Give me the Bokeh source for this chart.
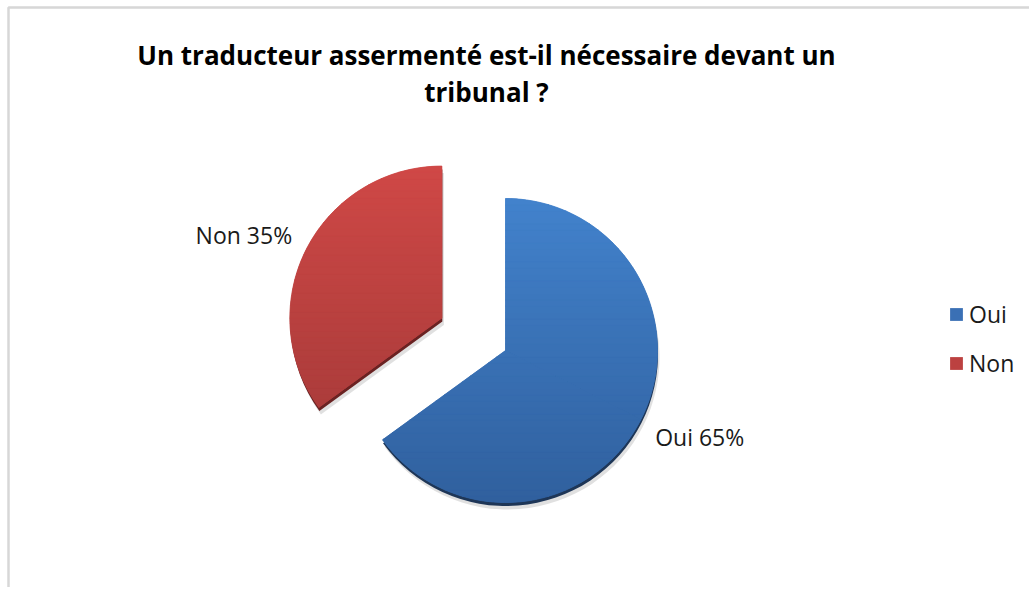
import numpy as np
from bokeh.plotting import figure
from bokeh.models import ColumnDataSource, Range1d, Legend, LegendItem, BoxAnnotation
from bokeh.core.properties import value
from bokeh.embed import file_html
from bokeh.resources import INLINE

# ---------------- data ----------------
CATEGORIES = ["Oui", "Non"]
VALUES = [65, 35]
TITLE_LINES = ["Un traducteur assermenté est-il nécessaire devant un", "tribunal ?"]

# ---------------- style ----------------
COLORS_MID = ["#3A70B5", "#BC4140"]
COLORS_TOP = ["#4282CC", "#CF4846"]
COLORS_BOTTOM = ["#30609E", "#A23938"]
RIM = ["#1E3657", "#6A2222"]
EXPLODE = [0.0, 0.47]
FONT = "Open Sans"

W, H = 1029, 587
CX, CY, R = 505.0, 237.0, 152.0

p = figure(width=W, height=H, x_range=Range1d(0, W), y_range=Range1d(0, H),
           output_backend="svg", toolbar_location=None, min_border=0)
p.axis.visible = False
p.grid.visible = False
p.outline_line_color = None
p.background_fill_color = "white"
p.border_fill_color = "white"

# chart-area frame (right / bottom edges fall outside the view, as in the reference)
p.add_layout(BoxAnnotation(left=8, top=H - 7, right=W + 20, bottom=-20, fill_alpha=0,
                           line_color="#7a7a7a", line_width=2.5))

vals = np.array(VALUES, dtype=float)
frac = vals / vals.sum()
cum = np.concatenate([[0], np.cumsum(frac)[:-1]])
start = np.pi / 2 - 2 * np.pi * cum
end = start - 2 * np.pi * frac
mid = (start + end) / 2
cx = CX + np.array(EXPLODE) * R * np.cos(mid)
cy = CY + np.array(EXPLODE) * R * np.sin(mid)

src = ColumnDataSource(dict(x=cx, y=cy, start=start, end=end, color=COLORS_MID,
                            rim=RIM, cat=CATEGORIES))

# soft shadow + dark rim
p.wedge(x="x", y="y", radius=R, start_angle="start", end_angle="end", direction="clock",
        source=ColumnDataSource(dict(x=cx + 2, y=cy - 7, start=start, end=end)),
        fill_color="#000000", fill_alpha=0.12, line_color=None)
p.wedge(x="x", y="y", radius=R, start_angle="start", end_angle="end", direction="clock",
        source=ColumnDataSource(dict(x=cx + 0.5, y=cy - 3.5, start=start, end=end, rim=RIM)),
        fill_color="rim", line_color=None)

base = p.wedge(x="x", y="y", radius=R, start_angle="start", end_angle="end", direction="clock",
               source=src, fill_color="color", line_color=None)


# vertical gradient made of clipped strips
def clip_y(poly, y0, y1):
    def clip(pts, keep, inter):
        out = []
        n = len(pts)
        for i in range(n):
            a, b = pts[i], pts[(i + 1) % n]
            ka, kb = keep(a), keep(b)
            if ka:
                out.append(a)
            if ka != kb:
                out.append(inter(a, b))
        return out

    def ix(a, b, yv):
        t = (yv - a[1]) / (b[1] - a[1])
        return (a[0] + t * (b[0] - a[0]), yv)

    pts = clip(poly, lambda q: q[1] >= y0, lambda a, b: ix(a, b, y0))
    if not pts:
        return pts
    pts = clip(pts, lambda q: q[1] <= y1, lambda a, b: ix(a, b, y1))
    return pts


def hex2rgb(h):
    return np.array([int(h[i:i + 2], 16) for i in (1, 3, 5)], dtype=float)


xs, ys, cols = [], [], []
NSTRIP = 48
for i in range(len(vals)):
    span = start[i] - end[i]
    npieces = int(np.ceil(span / (np.pi * 0.9)))
    edges = np.linspace(start[i], end[i], npieces + 1)
    top, bot = hex2rgb(COLORS_TOP[i]), hex2rgb(COLORS_BOTTOM[i])
    ylo, yhi = cy[i] - R, cy[i] + R
    yb = np.linspace(ylo, yhi, NSTRIP + 1)
    for k in range(npieces):
        ang = np.linspace(edges[k], edges[k + 1], 60)
        poly = [(cx[i], cy[i])] + [(cx[i] + R * np.cos(a), cy[i] + R * np.sin(a)) for a in ang]
        for s in range(NSTRIP):
            piece = clip_y(poly, yb[s], yb[s + 1])
            if len(piece) < 3:
                continue
            t = (0.5 * (yb[s] + yb[s + 1]) - ylo) / (yhi - ylo)
            c = bot + (top - bot) * t
            xs.append([q[0] for q in piece])
            ys.append([q[1] for q in piece])
            cols.append("#%02x%02x%02x" % tuple(int(round(v)) for v in c))

p.patches(xs="xs", ys="ys", fill_color="c", line_color="c", line_width=0.8,
          source=ColumnDataSource(dict(xs=xs, ys=ys, c=cols)))

# data labels (outside end: corner of the label box touches the anchor point)
LR = R + 16
HALF = 10
lab_x = cx + LR * np.cos(mid)
lab_y = cy + LR * np.sin(mid) + np.where(np.sin(mid) < 0, -HALF, HALF - 3)
labels = [f"{c} {v:g}%" for c, v in zip(CATEGORIES, VALUES)]
align = ["left" if np.cos(m) >= 0 else "right" for m in mid]
p.text(x="x", y="y", text="t", text_align="a", text_baseline="middle",
       source=ColumnDataSource(dict(x=lab_x, y=lab_y, t=labels, a=align)),
       text_font=value(FONT), text_font_size="23px", text_color="#1a1a1a")

# title
TX, TY0, TGAP = 486.0, H - 54.0, 37.0
p.text(x="x", y="y", text="t", text_align="center", text_baseline="middle",
       source=ColumnDataSource(dict(x=[TX] * len(TITLE_LINES),
                                    y=[TY0 - i * TGAP for i in range(len(TITLE_LINES))],
                                    t=TITLE_LINES)),
       text_font=value(FONT), text_font_size="26px", text_font_style="bold", text_color="#000000")

# legend
legend = Legend(items=[LegendItem(label=c, renderers=[base], index=i) for i, c in enumerate(CATEGORIES)],
                location=(948, H - 379), padding=0, margin=0, spacing=17,
                glyph_width=16, glyph_height=16, label_standoff=5,
                label_text_font=FONT, label_text_font_size="23px", label_text_color="#1a1a1a",
                border_line_alpha=0, background_fill_alpha=0)
p.add_layout(legend)

open("out.html", "w").write(file_html(p, INLINE))
